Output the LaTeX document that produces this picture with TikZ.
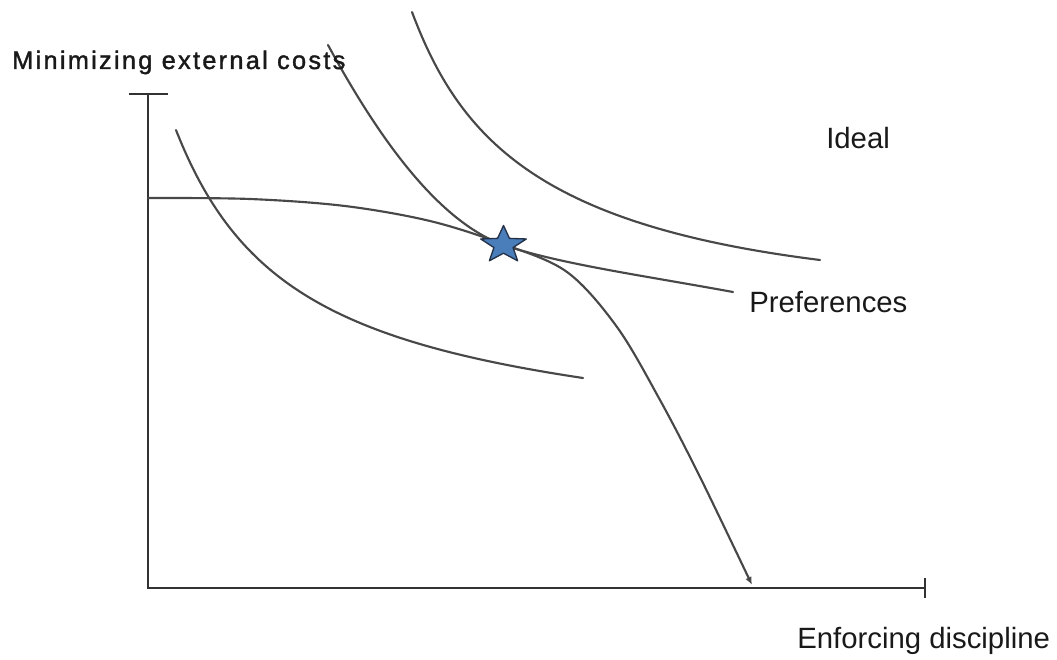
\documentclass[tikz,border=0pt]{standalone}
\usepackage{fontspec}
\setmainfont{Liberation Sans}
\usetikzlibrary{arrows.meta}
\definecolor{curvecol}{RGB}{72,72,72}
\definecolor{axiscol}{RGB}{50,50,50}
\definecolor{starfill}{RGB}{74,126,187}
\definecolor{starline}{RGB}{35,48,70}
\definecolor{txtcol}{RGB}{25,25,25}
\begin{document}
\begin{tikzpicture}[x=0.75pt,y=-0.75pt,
  axisline/.style={draw=axiscol,line width=1.9pt},
  curveline/.style={draw=curvecol,line width=1.6pt,line cap=round},
  lbl/.style={font=\fontsize{22}{26}\selectfont,text=txtcol,inner sep=0pt},
  starshape/.style={fill=starfill,draw=starline,line width=1pt,line join=round}]
\useasboundingbox (0,0) rectangle (1057,660);
% axes
\coordinate (ytop) at (148,94);
\coordinate (origin) at (148,588);
\coordinate (xend) at (925,588);
\coordinate (ytickL) at (129,94);
\coordinate (ytickR) at (168,94);
\coordinate (xtickT) at (925,578);
\coordinate (xtickB) at (925,598);
\draw[axisline] (ytop) -- (origin) -- (xend);
\draw[axisline] (ytickL) -- (ytickR);
\draw[axisline] (xtickT) -- (xtickB);
% star position
\coordinate (optimum) at (503.5,245);
% lower indifference curve
\coordinate (lowA) at (176,130);
\coordinate (lowB) at (583,378);
\draw[curveline] (lowA) .. controls (235,280) and (330,340) .. (lowB);
% middle indifference curve (Preferences)
\coordinate (midA) at (328,45);
\coordinate (midB) at (733,292);
\draw[curveline] (midA) .. controls (385,150) and (443,223) .. (optimum)
  .. controls (560,264) and (640,275) .. (midB);
% upper indifference curve
\coordinate (upA) at (412,12);
\coordinate (upB) at (820,260);
\draw[curveline] (upA) .. controls (460,140) and (540,225) .. (upB);
% frontier
\draw[curveline,-{Latex[length=6pt,width=5pt]}] plot[smooth,tension=0.55] coordinates
  {(148,198) (250,199) (345,206) (430,221) (503,244) (567,272) (617,327) (660,400) (700,477) (752,585)};
% star
\begin{scope}[shift={(optimum)},xscale=1.23]
  \draw[starshape] (270:19.5) -- (306:8.2) -- (342:19.5) -- (18:8.2) -- (54:19.5)
    -- (90:8.2) -- (126:19.5) -- (162:8.2) -- (198:19.5) -- (234:8.2) -- cycle;
\end{scope}
% labels
\node[lbl,font=\fontsize{19}{22}\selectfont\addfontfeature{LetterSpace=9,FakeBold=1.5},anchor=base west] (ylabel) at (12,69) {Minimizing external costs};
\node[lbl,anchor=base west] (ideal) at (826,148) {Ideal};
\node[lbl,anchor=base west] (prefs) at (749,312) {Preferences};
\node[lbl,anchor=base west] (xlabel) at (797,648) {Enforcing discipline};
\end{tikzpicture}
\end{document}
